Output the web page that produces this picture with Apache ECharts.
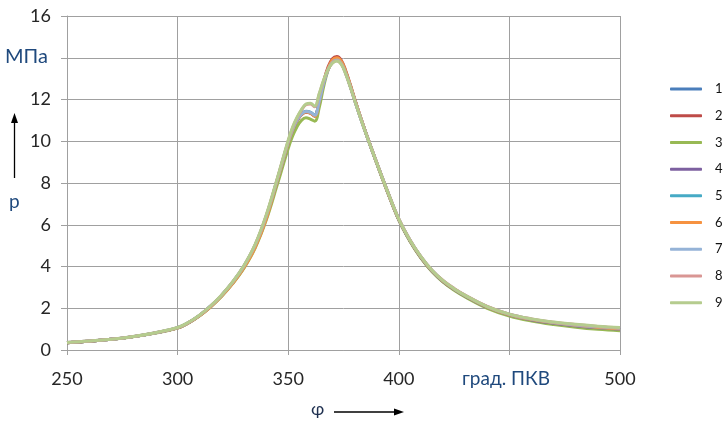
<!DOCTYPE html>
<html>
<head>
<meta charset="utf-8">
<script src="https://cdn.jsdelivr.net/npm/echarts@6/dist/echarts.min.js"></script>
<style>html,body{margin:0;padding:0;background:#fff}#c{width:728px;height:421px}</style>
</head>
<body>
<div id="c"></div>
<script>
// crank angle, deg
const phi = [250,260,270,280,290,300,305,310,315,320,325,330,335,340,345,350,352,354,356,358,360,362,364,366,368,370,372,374,376,378,380,383,386,390,395,400,405,410,415,420,425,430,440,450,460,470,480,490,500];
const seriesNames = ['1','2','3','4','5','6','7','8','9'];
const xTicks = [250,300,350,400,450,500];
const yTicks = [0,2,4,6,8,10,12,14,16];
const hiddenYTick = 14;   // replaced by unit label
const hiddenXTick = 450;  // replaced by unit label

const p1 = [0.35,0.42,0.51,0.64,0.82, 1.06,1.31,1.66,2.10,2.62, 3.24,3.99,4.96,6.33,8.10, 9.92,10.53,10.99,11.28,11.40, 11.36,11.22,11.88,12.78,13.44, 13.82,13.93,13.76,13.28,12.66, 11.99,11.03,10.12,8.96,7.55, 6.24,5.24,4.43,3.78,3.28, 2.90,2.58,2.04,1.67,1.43, 1.27,1.15,1.05,0.98];
const p2 = [0.35,0.42,0.51,0.64,0.82, 1.06,1.31,1.65,2.09,2.61, 3.22,3.96,4.93,6.28,8.08, 9.90,10.52,10.98,11.27,11.39, 11.35,11.20,11.90,12.85,13.55, 13.96,14.06,13.88,13.38,12.74, 12.05,11.06,10.14,8.97,7.55, 6.24,5.24,4.43,3.78,3.28, 2.90,2.58,2.04,1.67,1.43, 1.27,1.15,1.05,0.98];
const p3 = [0.35,0.42,0.51,0.64,0.81, 1.05,1.30,1.64,2.07,2.58, 3.19,3.92,4.87,6.20,7.90, 9.65,10.25,10.70,11.00,11.12, 11.06,10.96,11.60,12.60,13.40, 13.85,13.97,13.80,13.32,12.70, 12.02,11.04,10.12,8.95,7.53, 6.22,5.21,4.40,3.75,3.25, 2.86,2.54,2.00,1.63,1.39, 1.22,1.09,0.99,0.92];
const p4 = [0.35,0.42,0.51,0.64,0.82, 1.06,1.31,1.66,2.10,2.63, 3.25,4.00,4.98,6.35,8.12, 9.94,10.55,11.00,11.29,11.41, 11.37,11.23,11.90,12.80,13.45, 13.83,13.94,13.77,13.29,12.67, 12.00,11.04,10.13,8.97,7.56, 6.25,5.25,4.44,3.79,3.29, 2.91,2.59,2.05,1.68,1.44, 1.28,1.16,1.06,0.99];
const p5 = [0.35,0.42,0.51,0.64,0.82, 1.07,1.32,1.67,2.11,2.63, 3.26,4.02,5.00,6.38,8.15, 9.97,10.58,11.03,11.32,11.44, 11.40,11.26,11.92,12.80,13.44, 13.80,13.91,13.74,13.26,12.65, 11.99,11.03,10.13,8.97,7.57, 6.26,5.26,4.45,3.80,3.30, 2.92,2.60,2.06,1.69,1.46, 1.30,1.18,1.08,1.01];
const p6 = [0.35,0.42,0.51,0.64,0.82, 1.06,1.31,1.65,2.08,2.60, 3.21,3.95,4.91,6.26,8.10, 9.92,10.54,11.00,11.28,11.40, 11.35,11.20,11.88,12.82,13.48, 13.90,14.00,13.83,13.34,12.71, 12.03,11.05,10.13,8.97,7.56, 6.26,5.26,4.45,3.80,3.30, 2.92,2.60,2.06,1.69,1.46, 1.30,1.18,1.08,1.01];
const p7 = [0.36,0.43,0.52,0.65,0.83, 1.07,1.32,1.67,2.11,2.64, 3.27,4.03,5.02,6.40,8.14, 9.96,10.57,11.02,11.30,11.42, 11.38,11.24,11.90,12.78,13.42, 13.78,13.89,13.72,13.25,12.64, 11.98,11.03,10.13,8.98,7.58, 6.28,5.28,4.47,3.82,3.32, 2.94,2.62,2.08,1.71,1.48, 1.32,1.20,1.11,1.04];
const p8 = [0.36,0.43,0.52,0.65,0.83, 1.07,1.32,1.67,2.11,2.64, 3.27,4.04,5.03,6.42,8.18, 10.02,10.65,11.12,11.49,11.75, 11.79,11.65,12.25,12.90,13.42, 13.76,13.86,13.70,13.23,12.63, 11.98,11.03,10.13,8.98,7.58, 6.28,5.28,4.47,3.82,3.33, 2.95,2.63,2.09,1.72,1.49, 1.33,1.22,1.13,1.06];
const p9 = [0.36,0.43,0.52,0.65,0.83, 1.08,1.33,1.68,2.12,2.65, 3.28,4.05,5.05,6.45,8.20, 10.05,10.68,11.15,11.52,11.78, 11.82,11.68,12.28,12.93,13.43, 13.74,13.84,13.68,13.22,12.62, 11.97,11.02,10.12,8.97,7.57, 6.27,5.27,4.47,3.82,3.32, 2.94,2.62,2.08,1.72,1.49, 1.34,1.23,1.14,1.08];
const pValues = [p1,p2,p3,p4,p5,p6,p7,p8,p9];
const colors = ['#4A7EBB','#BE4B48','#98B954','#7D60A0','#46AAC5','#F69240','#95B3D7','#D99694','#B5CC8E'];

const FONT = 'Lato, "Open Sans", sans-serif';
const chart = echarts.init(document.getElementById('c'), null, {renderer:'canvas'});
const series = seriesNames.map((n,i)=>({
  name:n, type:'line', symbol:'none', smooth:0.4, xAxisIndex:0,
  data: phi.map((x,j)=>[x,pValues[i][j]]),
  lineStyle:{color:colors[i], width:3}, itemStyle:{color:colors[i]},
  emphasis:{disabled:true}, animation:false
}));
const axisGrey = '#A0A0A0';
chart.setOption({
  animation:false,
  backgroundColor:'#fff',
  grid:{left:67, right:108, top:16, bottom:71},
  legend:{
    orient:'vertical', left:665, top:70.7, itemWidth:32, itemHeight:3, itemGap:0,
    icon:'roundRect',
    data:seriesNames, selectedMode:false,
    textStyle:{fontFamily:FONT, fontSize:13, color:'#111', lineHeight:26.7, padding:[0,0,0,8]}
  },
  xAxis:[{
    type:'value', min:xTicks[0], max:xTicks[xTicks.length-1], interval:50,
    axisLine:{lineStyle:{color:axisGrey, width:1}},
    axisTick:{show:true, length:5, lineStyle:{color:axisGrey}},
    axisLabel:{margin:20, fontFamily:FONT, fontSize:18, color:'#262626',
      formatter:v => v===hiddenXTick ? '' : String(v)},
    splitLine:{show:true, lineStyle:{color:axisGrey, width:1}}
  },{
    type:'value', position:'bottom', min:xTicks[0], max:xTicks[xTicks.length-1], interval:50,
    axisLine:{show:false}, axisLabel:{show:false}, splitLine:{show:false},
    axisTick:{show:true, inside:true, length:4, lineStyle:{color:axisGrey}}
  }],
  yAxis:{
    type:'value', min:yTicks[0], max:yTicks[yTicks.length-1], interval:2,
    axisLine:{show:true, lineStyle:{color:axisGrey, width:1}},
    axisTick:{show:true, length:6, lineStyle:{color:axisGrey}},
    axisLabel:{margin:16, fontFamily:FONT, fontSize:18, color:'#262626',
      formatter:v => v===hiddenYTick ? '' : String(v)},
    splitLine:{show:true, lineStyle:{color:axisGrey, width:1}}
  },
  series: series,
  graphic:[
    {type:'text', left:5, top:47, style:{text:'МПа', fontFamily:FONT, fontSize:20, fill:'#1F497D'}},
    {type:'line', shape:{x1:14.5, y1:178, x2:14.5, y2:120}, style:{stroke:'#000', lineWidth:1.3}},
    {type:'polygon', shape:{points:[[14.5,113],[11,123],[18,123]]}, style:{fill:'#000'}},
    {type:'text', left:9, top:192, style:{text:'p', fontFamily:FONT, fontSize:19, fill:'#1F497D'}},
    {type:'text', left:462, top:369, style:{text:'град. ПКВ', fontFamily:FONT, fontSize:19, fill:'#1F497D'}},
    {type:'text', left:311, top:400, style:{text:'φ', fontFamily:FONT, fontSize:18, fill:'#1F3050'}},
    {type:'line', shape:{x1:334, y1:412, x2:396, y2:412}, style:{stroke:'#000', lineWidth:1.3}},
    {type:'polygon', shape:{points:[[404,412],[394,408.5],[394,415.5]]}, style:{fill:'#000'}}
  ]
});
</script>
</body>
</html>
